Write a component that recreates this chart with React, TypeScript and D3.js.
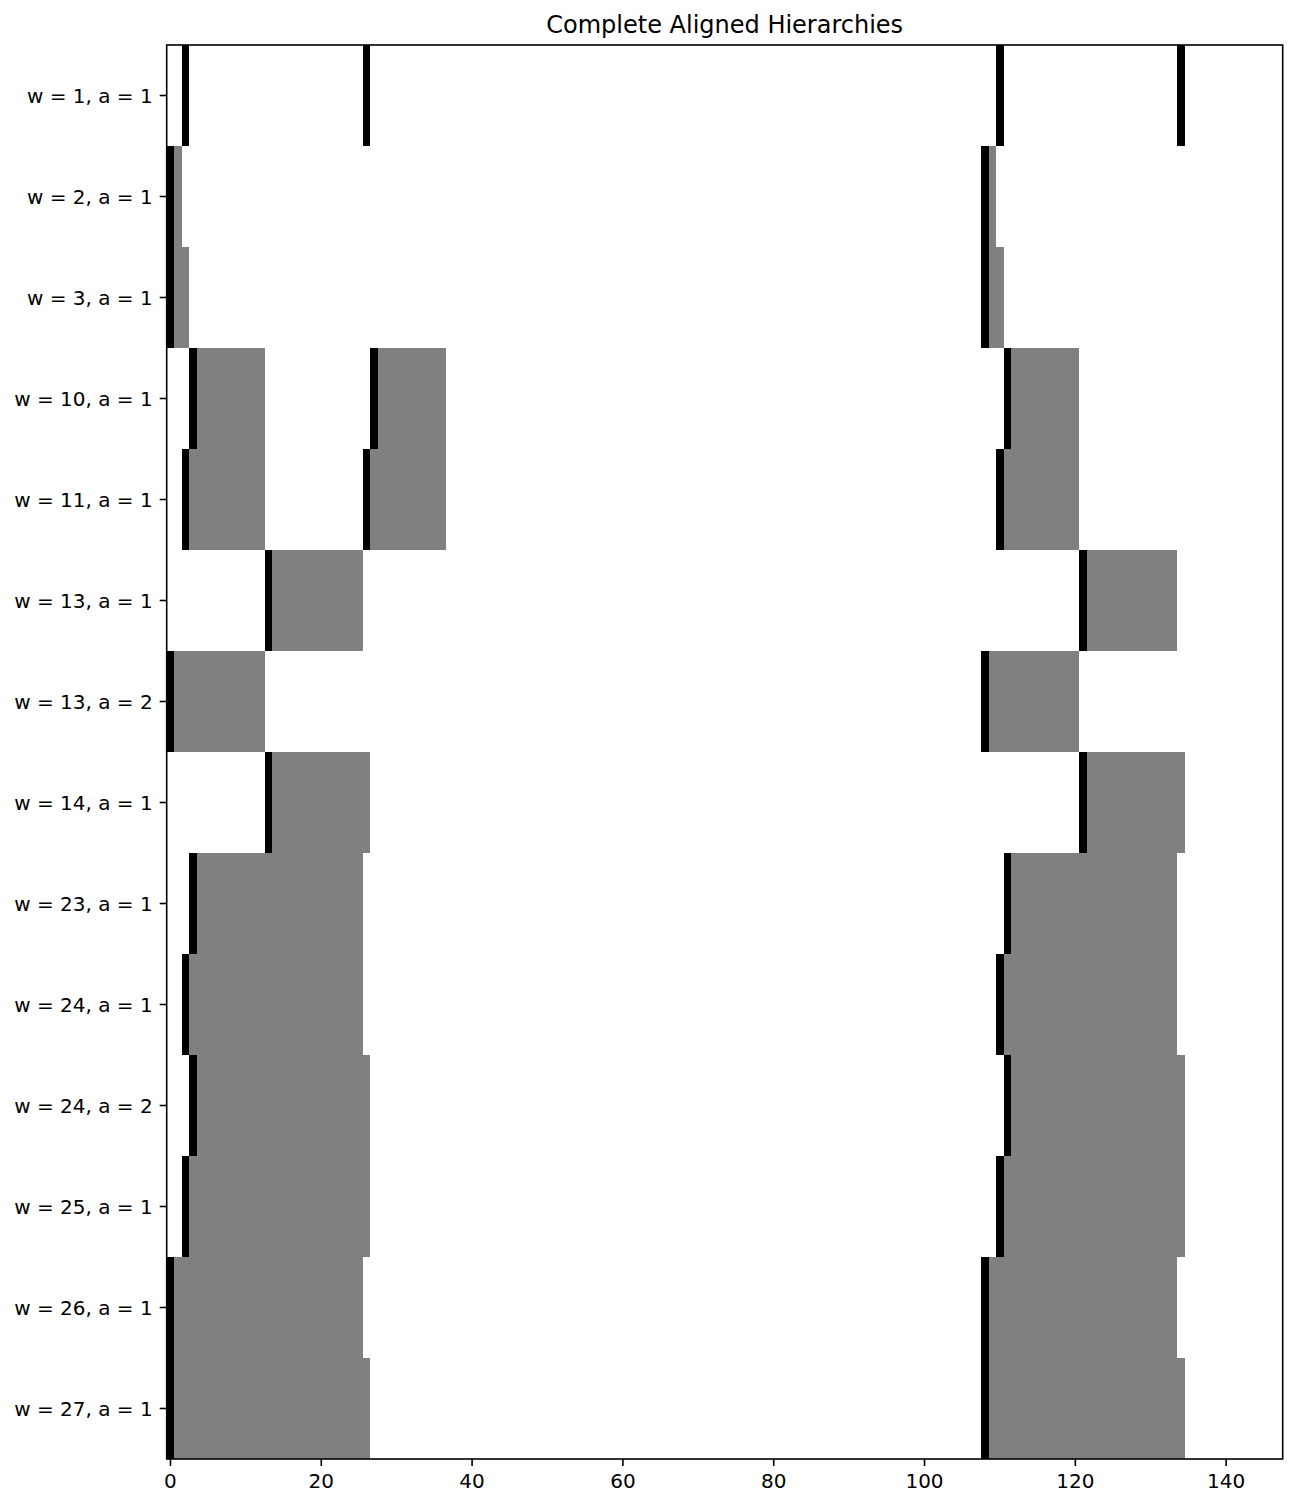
import * as d3 from 'd3'

// row labels, pattern widths and start indices
const rowLabels = [
  'w = 1, a = 1',
  'w = 2, a = 1',
  'w = 3, a = 1',
  'w = 10, a = 1',
  'w = 11, a = 1',
  'w = 13, a = 1',
  'w = 13, a = 2',
  'w = 14, a = 1',
  'w = 23, a = 1',
  'w = 24, a = 1',
  'w = 24, a = 2',
  'w = 25, a = 1',
  'w = 26, a = 1',
  'w = 27, a = 1',
]
const widths = [1, 2, 3, 10, 11, 13, 13, 14, 23, 24, 24, 25, 26, 27]
const starts = [
  [2, 26, 110, 134],
  [0, 108],
  [0, 108],
  [3, 27, 111],
  [2, 26, 110],
  [13, 121],
  [0, 108],
  [13, 121],
  [3, 111],
  [2, 110],
  [3, 111],
  [2, 110],
  [0, 108],
  [0, 108],
]
const numCols = 148
const xTickValues = [0, 20, 40, 60, 80, 100, 120, 140]
const title = 'Complete Aligned Hierarchies'

const W = 1297
const H = 1506
const left = 166.7
const right = 1282.7
const top = 45
const bottom = 1459
const font = '"DejaVu Sans", sans-serif'

export default function App() {
  const x = d3.scaleLinear().domain([-0.5, numCols - 0.5]).range([left, right])
  const y = d3.scaleBand<string>().domain(rowLabels).range([top, bottom]).padding(0)

  const cells = rowLabels.flatMap((label, i) =>
    starts[i].flatMap((s) => {
      const out = [{ key: `${label}-${s}-b`, label, from: s, to: s + 1, fill: '#000000' }]
      if (widths[i] > 1) {
        out.push({ key: `${label}-${s}-g`, label, from: s + 1, to: s + widths[i], fill: '#808080' })
      }
      return out
    })
  )

  return (
    <svg
      width={W}
      height={H}
      style={{ position: 'absolute', left: 0, top: 0, background: '#fff' }}
      fontFamily={font}
    >
      <rect x={0} y={0} width={W} height={H} fill="#fff" />
      <g shapeRendering="crispEdges">
        {cells.map((c) => (
          <rect
            key={c.key}
            x={x(c.from - 0.5)}
            y={y(c.label)}
            width={x(c.to - 0.5) - x(c.from - 0.5)}
            height={y.bandwidth()}
            fill={c.fill}
          />
        ))}
      </g>
      <rect
        x={left}
        y={top}
        width={right - left}
        height={bottom - top}
        fill="none"
        stroke="#000"
        strokeWidth={1.6}
      />
      {rowLabels.map((label) => {
        const cy = (y(label) ?? 0) + y.bandwidth() / 2
        return (
          <g key={label}>
            <line x1={left - 7} x2={left} y1={cy} y2={cy} stroke="#000" strokeWidth={1.6} />
            <text x={left - 14} y={cy} dy="0.35em" textAnchor="end" fontSize={20} fill="#000">
              {label}
            </text>
          </g>
        )
      })}
      {xTickValues.map((t) => (
        <g key={t}>
          <line x1={x(t)} x2={x(t)} y1={bottom} y2={bottom + 7} stroke="#000" strokeWidth={1.6} />
          <text x={x(t)} y={1487.5} textAnchor="middle" fontSize={20} fill="#000">
            {t}
          </text>
        </g>
      ))}
      <text x={(left + right) / 2} y={33} textAnchor="middle" fontSize={24} fill="#000">
        {title}
      </text>
    </svg>
  )
}
